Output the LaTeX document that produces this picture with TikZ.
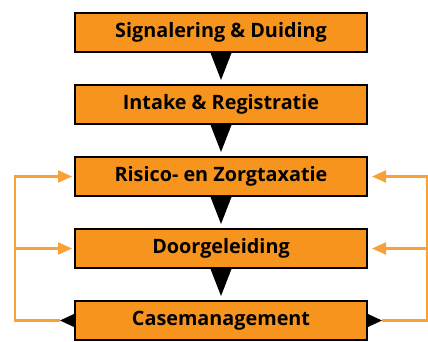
\documentclass[tikz,border=0pt]{standalone}
\usepackage{fontspec}
\setmainfont{Open Sans}
\usetikzlibrary{arrows.meta,calc}
\definecolor{boxorange}{HTML}{F7941D}
\definecolor{lineorange}{HTML}{F8A13A}
\begin{document}
\begin{tikzpicture}[x=1pt,y=-1pt,
  stepbox/.style={draw=black,line width=2pt,fill=boxorange,minimum width=292pt,minimum height=39pt,inner sep=0pt,font=\fontsize{19.8}{21}\selectfont\bfseries},
  feedline/.style={draw=lineorange,line width=2.2pt},
  feedarrow/.style={feedline,-{Triangle[length=14pt,width=12pt]}}]
\useasboundingbox (0,0) rectangle (428,342);
\node[stepbox] (s1) at (221,32.5) {Signalering \& Duiding};
\node[stepbox] (s2) at (221,104.5) {Intake \& Registratie};
\node[stepbox] (s3) at (221,176.5) {Risico- en Zorgtaxatie};
\node[stepbox] (s4) at (221,248.5) {Doorgeleiding};
\node[stepbox] (s5) at (221,320.5) {Casemanagement};
% down triangles
\foreach \a/\b in {s1/s2,s2/s3,s3/s4,s4/s5}{
  \fill[black] ($(\a.south)+(-10.5,0)$) -- ($(\a.south)+(10.5,0)$) -- ($(\b.north)+(0,-4)$) -- cycle;
}
% side black triangles
\fill[black] ($(s5.west)+(0,-6.5)$) -- ($(s5.west)+(0,6.5)$) -- ($(s5.west)+(-14,0)$) -- cycle;
\fill[black] ($(s5.east)+(0,-6.5)$) -- ($(s5.east)+(0,6.5)$) -- ($(s5.east)+(14,0)$) -- cycle;
% left feedback
\coordinate (lb) at ($(s5.west)+(-14,0)$);
\coordinate (lc) at ($(s5.west)+(-59,0)$);
\coordinate (lm) at ($(s4.west)+(-59,0)$);
\draw[feedarrow] (lb) -- (lc) |- ($(s3.west)+(-2,0)$);
\draw[feedarrow] (lm) -- ($(s4.west)+(-2,0)$);
% right feedback
\coordinate (rb) at ($(s5.east)+(14,0)$);
\coordinate (rc) at ($(s5.east)+(59,0)$);
\coordinate (rm) at ($(s4.east)+(59,0)$);
\draw[feedarrow] (rb) -- (rc) |- ($(s3.east)+(4,0)$);
\draw[feedarrow] (rm) -- ($(s4.east)+(4,0)$);
\end{tikzpicture}
\end{document}
